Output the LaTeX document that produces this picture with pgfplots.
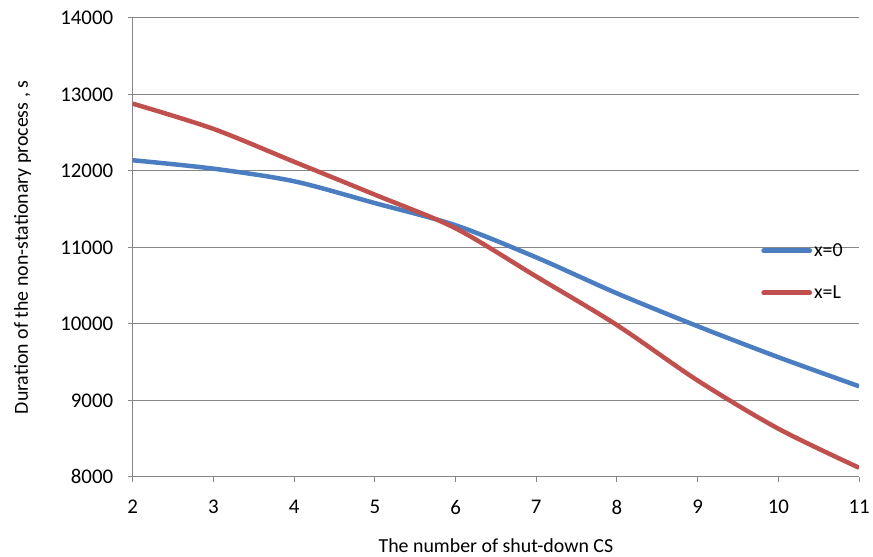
\documentclass[border=0pt]{standalone}
\usepackage{pgfplots}
\pgfplotsset{compat=1.18}
\usepackage{fontspec}
\setmainfont{Carlito}
\definecolor{cblue}{RGB}{74,126,193}
\definecolor{cred}{RGB}{192,80,77}
\definecolor{cgrid}{RGB}{134,134,134}
\begin{document}
\begin{tikzpicture}[x=1bp,y=1bp]
\begin{axis}[
  scale only axis,
  width=728bp, height=460bp,
  at={(0,0)}, anchor=south west,
  xmin=2, xmax=11, ymin=8000, ymax=14000,
  xtick={2,...,11},
  ytick={8000,9000,...,14000},
  scaled ticks=false,
  ymajorgrids,
  grid style={cgrid, line width=1bp},
  axis x line*=bottom, axis y line*=left,
  axis line style={cgrid, line width=1bp, -},
  tick style={cgrid, line width=1bp},
  tick align=outside,
  major tick length=5bp,
  ticklabel style={font=\fontsize{21}{24}\selectfont},
  yticklabel style={xshift=-11bp},
  xticklabel style={yshift=-15bp},
  /pgf/number format/assume math mode=true,
  /pgf/number format/1000 sep={},
  xlabel={The number of shut-down CS},
  ylabel={Duration of the non-stationary process , s},
  label style={font=\fontsize{20}{24}\selectfont},
  xlabel style={at={(axis description cs:0.5,0)}, anchor=base, yshift=-76bp},
  ylabel style={at={(axis description cs:0,0.5)}, anchor=base, yshift=105bp},
  legend style={draw=none, fill=none, at={(rel axis cs:0.865,0.447)}, anchor=west,
     font=\fontsize{20}{24}\selectfont, row sep=24bp, inner sep=0pt},
  legend cell align=left,
  legend image code/.code={\draw[#1, line width=5bp, line cap=round] (0bp,0bp) -- (46bp,0bp);},
]
\addplot[cblue, line width=4.5bp, smooth, tension=0.5] coordinates {
(2,12140) (3,12030) (4,11865) (5,11580) (6,11290) (7,10870) (8,10400) (9,9970) (10,9565) (11,9185)};
\addlegendentry{x=0}
\addplot[cred, line width=4.5bp, smooth, tension=0.5] coordinates {
(2,12880) (3,12550) (4,12120) (5,11690) (6,11250) (7,10620) (8,9985) (9,9260) (10,8630) (11,8120)};
\addlegendentry{x=L}
\end{axis}
\useasboundingbox (-133,-79) rectangle (740,478);
\end{tikzpicture}
\end{document}
